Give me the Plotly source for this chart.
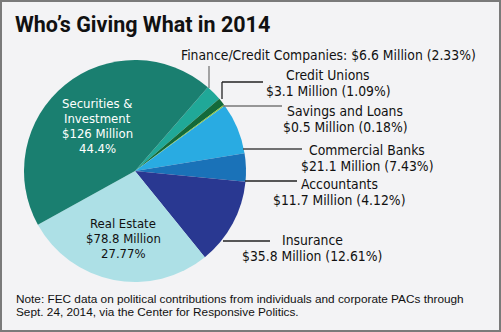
import plotly.graph_objects as go

W, H = 501, 332

# ---- data ----
sectors = ["Finance/Credit Companies", "Credit Unions", "Savings and Loans",
           "Commercial Banks", "Accountants", "Insurance", "Real Estate",
           "Securities & Investment"]
millions = [6.6, 3.1, 0.5, 21.1, 11.7, 35.8, 78.8, 126]
percents = ["2.33%", "1.09%", "0.18%", "7.43%", "4.12%", "12.61%", "27.77%", "44.4%"]
shares = [2.33, 1.09, 0.18, 7.43, 4.12, 12.61, 27.77, 44.4]
colors = ["#20a898", "#136a3a", "#8dc63f", "#29abe2", "#1a72b8", "#293891",
          "#ade0e6", "#1a7f70"]

title = "Who\u2019s Giving What in 2014"
note_lines = ["Note: FEC data on political contributions from individuals and corporate PACs through",
              "Sept. 24, 2014, via the Center for Responsive Politics."]

COND = "DejaVu Sans Condensed, sans-serif"
TITLE_FONT = "Roboto, sans-serif"
REG = "Liberation Sans, Arial, Helvetica, sans-serif"


def px(x):
    return x / W


def py(y):
    return 1 - y / H


def money(v):
    return f"${v:g} Million"


# pie geometry (pixels)
cx, cy, r = 135, 171, 111

fig = go.Figure(go.Pie(
    labels=sectors, values=shares, sort=False, direction="clockwise",
    rotation=41, marker=dict(colors=colors, line=dict(width=0)),
    textinfo="none", hoverinfo="label+percent", showlegend=False,
    domain=dict(x=[px(cx - r), px(cx + r)], y=[py(cy + r), py(cy - r)]),
))

ann = []


def text(x, y, s, size=13.8, color="#111", font=COND, xanchor="center"):
    ann.append(dict(x=px(x), y=py(y), xref="paper", yref="paper", text=s,
                    showarrow=False, xanchor=xanchor, yanchor="middle",
                    font=dict(family=font, size=size, color=color)))


# title
ann.append(dict(x=px(13), y=py(24), xref="paper", yref="paper", text=f"<b>{title}</b>",
                showarrow=False, xanchor="left", yanchor="middle",
                font=dict(family=TITLE_FONT, size=21.5, color="#111")))

# outside labels
text(328, 55, f"{sectors[0]}: {money(millions[0])} ({percents[0]})")
text(328, 75, sectors[1]); text(328, 91, f"{money(millions[1])} ({percents[1]})")
text(345, 111, sectors[2]); text(345, 126.5, f"{money(millions[2])} ({percents[2]})")
text(367, 150, sectors[3]); text(367, 165.5, f"{money(millions[3])} ({percents[3]})")
text(339, 184, sectors[4]); text(339, 200, f"{money(millions[4])} ({percents[4]})")
text(312, 240, sectors[5]); text(312, 255.5, f"{money(millions[5])} ({percents[5]})")

# inside labels
for k, s in enumerate(["Real Estate", money(millions[6]), percents[6]]):
    text(123, 223 + 15 * k, s, size=13, color="#111")
for k, s in enumerate(["Securities &", "Investment", f"${millions[7]:g} Million", percents[7]]):
    text(97, 103 + 15 * k, s, size=13, color="#ffffff")

# note
text(14, 299, note_lines[0], size=11.8, font=REG, xanchor="left")
text(14, 312, note_lines[1], size=11.8, font=REG, xanchor="left")

shapes = []


def seg(x0, y0, x1, y1, color="#222", w=1.3):
    shapes.append(dict(type="line", xref="paper", yref="paper",
                       x0=px(x0), y0=py(y0), x1=px(x1), y1=py(y1),
                       line=dict(color=color, width=w)))


seg(209, 66, 209, 88, color="#777")
seg(222, 82, 263, 82)
seg(222, 82, 222, 99)
seg(223, 106, 282, 106, color="#777")
seg(243, 149, 302, 149, color="#444")
seg(245, 181, 297, 181)
seg(223, 241, 270, 241)

# border
shapes.append(dict(type="rect", xref="paper", yref="paper", x0=px(1), y0=py(1),
                   x1=px(W - 1), y1=py(H - 1), line=dict(color="#7a7a7a", width=2)))

fig.update_layout(width=W, height=H, margin=dict(l=0, r=0, t=0, b=0),
                  paper_bgcolor="#f3f3f5", plot_bgcolor="#f3f3f5",
                  annotations=ann, shapes=shapes)

fig.write_html("out.html")
